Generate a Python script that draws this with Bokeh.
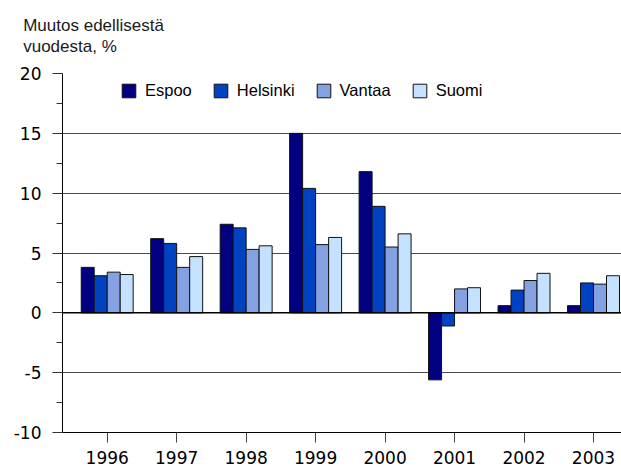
from bokeh.plotting import figure
from bokeh.models import (Range1d, FixedTicker, ColumnDataSource, Legend, LegendItem,
                          Span, Title)
from bokeh.transform import dodge
from bokeh.embed import file_html
from bokeh.resources import INLINE

years = ["1996", "1997", "1998", "1999", "2000", "2001", "2002", "2003"]
espoo = [3.8, 6.2, 7.4, 15.0, 11.8, -5.6, 0.6, 0.6]
helsinki = [3.1, 5.8, 7.1, 10.4, 8.9, -1.1, 1.9, 2.5]
vantaa = [3.4, 3.8, 5.3, 5.7, 5.5, 2.0, 2.7, 2.4]
suomi = [3.2, 4.7, 5.6, 6.3, 6.6, 2.1, 3.3, 3.1]
series_names = ["Espoo", "Helsinki", "Vantaa", "Suomi"]
colors = ["#000080", "#0042C2", "#84A2E2", "#C4E2FF"]
y_ticks = [-10, -5, 0, 5, 10, 15, 20]
y_tick_labels = ["-10", "-5", "0", "5", "10", "15", "20"]
y_minor = [-7.5, -2.5, 2.5, 7.5, 12.5, 17.5]
title_text = "Muutos edellisestä\nvuodesta, %"

xs = list(range(len(years)))
src = ColumnDataSource(dict(x=xs, Espoo=espoo, Helsinki=helsinki, Vantaa=vantaa, Suomi=suomi))

p = figure(width=621, height=467, output_backend="svg", toolbar_location=None,
           x_range=Range1d(-0.6435, 7.403), y_range=Range1d(-10, 20),
           min_border_left=62, min_border_right=0, min_border_top=73, min_border_bottom=35)
p.outline_line_color = None
p.background_fill_color = "white"
p.border_fill_color = "white"

p.title = Title(text=title_text, align="left", offset=-39.3, vertical_align="top",
                text_font="Liberation Sans", text_font_size="17px",
                text_font_style="normal", text_color="#1a1a1a", standoff=31,
                text_line_height=1.1)

w = 0.187
offsets = [-1.5 * w, -0.5 * w, 0.5 * w, 1.5 * w]
renderers = []
for name, col, off in zip(series_names, colors, offsets):
    r = p.vbar(x=dodge("x", off), top=name, bottom=0, width=w, source=src,
               fill_color=col, line_color="#111111", line_width=1)
    renderers.append(r)

p.add_layout(Span(location=0, dimension="width", line_color="black", line_width=1.5))

# grid
p.xgrid.grid_line_color = None
p.ygrid.ticker = FixedTicker(ticks=[-5, 5, 10, 15, 20])
p.ygrid.grid_line_color = "#4a4a4a"
p.ygrid.grid_line_width = 1.2

# y axis
p.yaxis.ticker = FixedTicker(ticks=y_ticks, minor_ticks=y_minor)
p.yaxis.major_label_overrides = {t: s for t, s in zip(y_ticks, y_tick_labels)}
p.yaxis.major_tick_out = 10
p.yaxis.major_tick_in = 0
p.yaxis.minor_tick_out = 6
p.yaxis.minor_tick_in = 0
p.yaxis.major_label_standoff = 11
p.yaxis.axis_line_color = "black"
p.yaxis.major_tick_line_color = "#333333"
p.yaxis.minor_tick_line_color = "#333333"
p.yaxis.major_label_text_font = "DejaVu Sans"
p.yaxis.major_label_text_font_size = "17px"
p.yaxis.major_label_text_color = "black"

# x axis
p.xaxis.ticker = FixedTicker(ticks=xs)
p.xaxis.major_label_overrides = {i: y for i, y in zip(xs, years)}
p.xaxis.major_tick_out = 10
p.xaxis.major_tick_in = 0
p.xaxis.minor_tick_line_color = None
p.xaxis.major_label_standoff = 8
p.xaxis.axis_line_color = "black"
p.xaxis.major_tick_line_color = "#444444"
p.xaxis.major_label_text_font = "DejaVu Sans"
p.xaxis.major_label_text_font_size = "17px"
p.xaxis.major_label_text_color = "black"

legend = Legend(items=[LegendItem(label=n, renderers=[r]) for n, r in zip(series_names, renderers)],
                orientation="horizontal", location=(58, 332),
                glyph_width=17, glyph_height=17, label_height=17, label_standoff=8,
                spacing=20, padding=0, margin=0,
                border_line_color=None, background_fill_alpha=0,
                label_text_font="Liberation Sans", label_text_font_size="16.5px",
                label_text_color="black")
p.add_layout(legend, "center")

open("out.html", "w").write(file_html(p, INLINE))
